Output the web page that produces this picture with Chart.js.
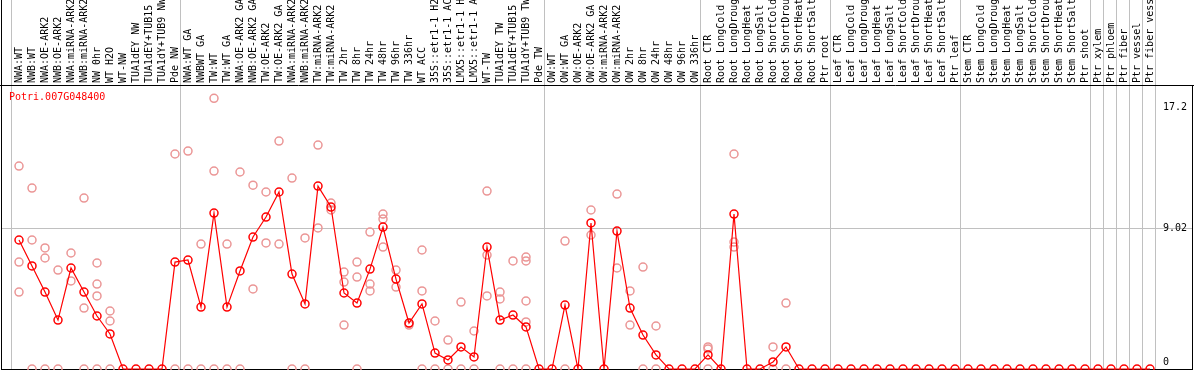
<!DOCTYPE html>
<html>
<head>
<meta charset="utf-8">
<script src="https://cdn.jsdelivr.net/npm/chart.js@4.4.0/dist/chart.umd.min.js"></script>
<style>
  body { margin: 0; background: #fff; }
  canvas { display: block; }
</style>
</head>
<body>
<canvas id="exprChart" width="1194" height="370"></canvas>
<script>
const geneId = 'Potri.007G048400';

const samples = [
    'NWA:WT', 'NWB:WT', 'NWA:OE-ARK2', 'NWB:OE-ARK2', 'NWA:miRNA-ARK2', 'NWB:miRNA-ARK2',
    'NW 0hr', 'WT H2O', 'WT-NW', 'TUA1dEY NW', 'TUA1dEY+TUB15 NW', 'TUA1dY+TUB9 NW', 'Pde NW',
    'NWA:WT GA', 'NWBWT GA', 'TW:WT', 'TW:WT GA', 'NWA:OE-ARK2 GA', 'NWB:OE-ARK2 GA',
    'TW:OE-ARK2', 'TW:OE-ARK2 GA', 'NWA:miRNA-ARK2 GA', 'NWB:miRNA-ARK2 GA', 'TW:miRNA-ARK2',
    'TW:miRNA-ARK2 GA', 'TW 2hr', 'TW 8hr', 'TW 24hr', 'TW 48hr', 'TW 96hr', 'TW 336hr',
    'WT ACC', '35S::etr1-1 H2O', '35S::etr1-1 ACC', 'LMX5::etr1-1 H2O', 'LMX5::etr1-1 ACC',
    'WT-TW', 'TUA1dEY TW', 'TUA1dEY+TUB15 TW', 'TUA1dY+TUB9 TW', 'Pde TW',
    'OW:WT', 'OW:WT GA', 'OW:OE-ARK2', 'OW:OE-ARK2 GA', 'OW:miRNA-ARK2', 'OW:miRNA-ARK2 GA',
    'OW 2hr', 'OW 8hr', 'OW 24hr', 'OW 48hr', 'OW 96hr', 'OW 336hr',
    'Root CTR', 'Root LongCold', 'Root LongDrought', 'Root LongHeat', 'Root LongSalt',
    'Root ShortCold', 'Root ShortDrought', 'Root ShortHeat', 'Root ShortSalt', 'Ptr root',
    'Leaf CTR', 'Leaf LongCold', 'Leaf LongDrought', 'Leaf LongHeat', 'Leaf LongSalt',
    'Leaf ShortCold', 'Leaf ShortDrought', 'Leaf ShortHeat', 'Leaf ShortSalt', 'Ptr leaf',
    'Stem CTR', 'Stem LongCold', 'Stem LongDrought', 'Stem LongHeat', 'Stem LongSalt',
    'Stem ShortCold', 'Stem ShortDrought', 'Stem ShortHeat', 'Stem ShortSalt', 'Ptr shoot',
    'Ptr xylem', 'Ptr phloem', 'Ptr fiber', 'Ptr vessel', 'Ptr fiber vessel'
];

// sizes of the blocks separated by grey vertical lines
const groupSizes = [13, 28, 12, 10, 10, 10, 1, 1, 1, 1, 1];

const meanExpr = [
    8.25, 6.59, 4.92, 3.13, 6.46, 4.92, 3.39, 2.24, 0, 0,
    0, 0, 6.84, 6.97, 3.96, 9.97, 3.96, 6.27, 8.44, 9.72,
    11.32, 6.07, 4.16, 11.70, 10.36, 4.86, 4.22, 6.39, 9.08, 5.75,
    2.94, 4.16, 1.02, 0.58, 1.41, 0.77, 7.80, 3.13, 3.45, 2.69,
    0, 0, 4.09, 0, 9.34, 0, 8.82, 3.90, 2.17, 0.90,
    0, 0, 0, 0.90, 0, 9.91, 0, 0, 0.45, 1.41,
    0, 0, 0,
    0, 0, 0, 0, 0, 0, 0, 0, 0, 0,
    0, 0, 0, 0, 0, 0, 0, 0, 0, 0,
    0, 0, 0, 0, 0
];

const replicates = [
    [12.98, 6.84, 4.92], [11.57, 8.25, 0], [7.74, 7.10, 0], [6.33, 0], [7.42, 5.63],
    [10.93, 3.90, 0], [6.78, 5.43, 4.67, 0], [3.71, 3.07, 0], [], [],
    [], [], [13.75, 0], [13.94, 0], [7.99, 0], [17.31, 12.66, 0], [7.99, 0], [12.6, 0],
    [11.76, 5.12], [11.32, 8.06], [14.58, 7.99], [12.21, 0], [8.38, 0], [14.32, 9.02],
    [10.61, 10.17], [6.20, 5.56, 2.81], [6.84, 5.88, 0], [8.76, 5.43, 4.99], [9.91, 9.59, 7.80],
    [6.33, 5.24], [2.94, 2.81], [7.61, 4.99, 0], [3.07, 0], [1.85, 0], [4.28, 0], [2.43, 0],
    [11.38, 7.29, 4.67], [4.92, 4.48, 0], [6.91, 0], [7.16, 6.91, 4.35, 3.01, 0], [],
    [], [8.18, 0], [], [10.17, 8.57], [], [11.19, 6.46], [4.99, 2.81], [6.52, 0], [2.75, 0],
    [], [], [], [1.41, 1.28, 0], [], [13.75, 8.12, 7.80], [], [], [1.41, 0], [4.22, 0],
    [], [], [],
    [], [], [], [], [], [], [], [], [], [],
    [], [], [], [], [], [], [], [], [], [],
    [], [], [], [], []
];

const yTicks = [0, 9.02, 17.2];
const gridValues = [9.02];
const yMax = 18.1;

const FONT_FAMILY = '"DejaVu Sans Mono", monospace';
const X_SHIFT = 8 / 13; // points sit a bit right of the band centre

const frame = {
    id: 'frame',
    beforeDraw(chart) {
        const { ctx, chartArea: a, scales: { x, y } } = chart;
        const w = chart.width;
        ctx.save();
        ctx.strokeStyle = '#c0c0c0';
        ctx.lineWidth = 1;
        let k = 0;
        const edges = [0];
        groupSizes.forEach(n => { k += n; edges.push(k); });
        edges.forEach(e => {
            const px = Math.round(x.getPixelForValue(e - X_SHIFT)) + 0.5;
            ctx.beginPath();
            ctx.moveTo(px, 0);
            ctx.lineTo(px, a.bottom);
            ctx.stroke();
        });
        gridValues.forEach(v => {
            const py = Math.round(y.getPixelForValue(v)) + 0.5;
            ctx.beginPath();
            ctx.moveTo(1, py);
            ctx.lineTo(w - 1, py);
            ctx.stroke();
        });

        ctx.strokeStyle = '#000';
        ctx.beginPath();
        ctx.moveTo(1.5, 0); ctx.lineTo(1.5, a.bottom + 1);
        ctx.moveTo(0, a.top - 0.5); ctx.lineTo(w, a.top - 0.5);
        ctx.moveTo(1, a.bottom + 0.5); ctx.lineTo(w - 1, a.bottom + 0.5);
        ctx.moveTo(w - 1.5, a.top); ctx.lineTo(w - 1.5, a.bottom + 1);
        ctx.stroke();

        ctx.fillStyle = '#ff0000';
        ctx.font = '10px ' + FONT_FAMILY;
        ctx.textBaseline = 'middle';
        ctx.fillText(geneId, 9, a.top + 11);
        ctx.restore();
    }
};

const repPoints = [];
replicates.forEach((list, i) => list.forEach(v => repPoints.push({ x: i, y: v })));

new Chart(document.getElementById('exprChart'), {
    type: 'line',
    data: {
        datasets: [{
            label: geneId,
            data: meanExpr.map((v, i) => ({ x: i, y: v })),
            borderColor: '#ff0000',
            borderWidth: 1.2,
            pointRadius: 4,
            pointBorderWidth: 1.5,
            pointBorderColor: '#ff0000',
            pointBackgroundColor: 'rgba(0,0,0,0)',
            tension: 0,
            clip: false,
            order: 0
        }, {
            label: 'replicates',
            data: repPoints,
            showLine: false,
            pointRadius: 4,
            pointBorderWidth: 1.5,
            pointBorderColor: '#eb9696',
            pointBackgroundColor: 'rgba(0,0,0,0)',
            clip: false,
            order: 1
        }]
    },
    options: {
        responsive: false,
        devicePixelRatio: 1,
        animation: false,
        layout: { autoPadding: false, padding: { left: 11, right: 1, top: 0, bottom: 1 } },
        plugins: {
            legend: { display: false },
            tooltip: { enabled: false }
        },
        scales: {
            x: {
                type: 'linear',
                position: 'top',
                min: -X_SHIFT,
                max: samples.length - X_SHIFT,
                afterBuildTicks: s => { s.ticks = samples.map((_, i) => ({ value: i })); },
                afterFit: s => {
                    s.height = 86;
                    s.paddingLeft = s.paddingRight = s.paddingTop = s.paddingBottom = 0;
                },
                grid: { display: false, drawTicks: false },
                border: { display: false },
                ticks: {
                    autoSkip: false,
                    minRotation: 90,
                    maxRotation: 90,
                    padding: 3,
                    labelOffset: 12,
                    color: '#000',
                    font: { family: FONT_FAMILY, size: 10 },
                    callback: v => samples[v]
                }
            },
            y: {
                type: 'linear',
                position: 'right',
                min: 0,
                max: yMax,
                afterBuildTicks: s => { s.ticks = yTicks.map(v => ({ value: v })); },
                afterFit: s => {
                    s.width = 38;
                    s.paddingLeft = s.paddingRight = s.paddingTop = s.paddingBottom = 0;
                },
                grid: { display: false, drawTicks: false },
                border: { display: false },
                ticks: {
                    padding: 8,
                    color: '#000',
                    font: { family: FONT_FAMILY, size: 10, lineHeight: 1.4 },
                    callback: (v, i) => {
                        const t = String(v);
                        if (i === yTicks.length - 1) return ['', t];
                        if (i === 0) return [t, ''];
                        return t;
                    }
                }
            }
        }
    },
    plugins: [frame]
});
</script>
</body>
</html>
